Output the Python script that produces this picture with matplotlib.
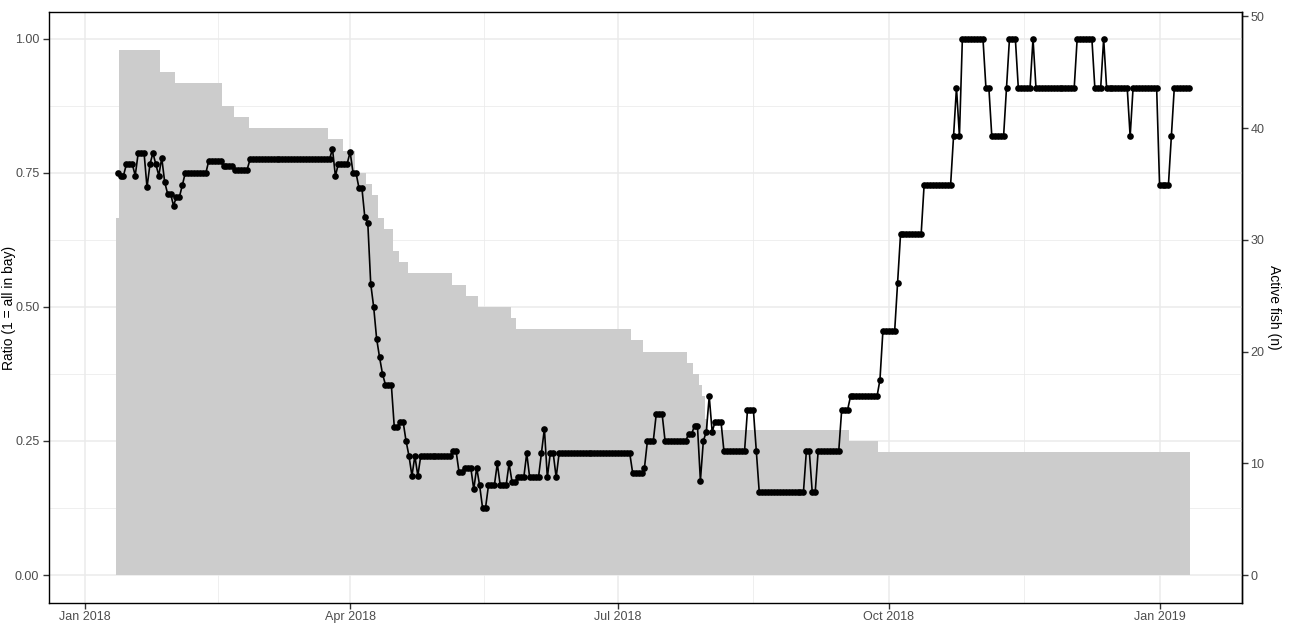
import numpy as np
import pandas as pd
import matplotlib
matplotlib.use('Agg')
import matplotlib.pyplot as plt
from matplotlib.ticker import FixedLocator

plt.rcParams['font.family'] = ['Liberation Sans', 'DejaVu Sans']

START = pd.Timestamp('2018-01-01')
LAST_DAY = 375          # last day with data (days since START)
FISH_SCALE = 48         # right axis = ratio * 48

# ratio (1 = all in bay) as runs: first day of each run, value of the run
ratio_start = [11, 12, 14, 17, 18, 21, 22, 23, 24, 25,
               26, 27, 28, 30, 31, 33, 34, 42, 47, 51,
               56, 84, 85, 86, 90, 91, 93, 95, 96, 97,
               98, 99, 100, 101, 102, 105, 107, 109, 110, 111,
               112, 113, 114, 125, 127, 129, 132, 133, 134, 135,
               137, 140, 141, 144, 145, 147, 150, 151, 155, 156,
               157, 158, 160, 161, 186, 190, 191, 194, 197, 205,
               207, 209, 210, 211, 212, 213, 214, 217, 225, 228,
               229, 245, 247, 249, 257, 260, 270, 271, 276, 277,
               285, 295, 296, 297, 298, 306, 308, 313, 314, 317,
               322, 323, 337, 343, 346, 347, 355, 356, 365, 369,
               370]
ratio_value = [0.75, 0.745, 0.766, 0.745, 0.787, 0.723, 0.766, 0.787, 0.766, 0.745,
               0.778, 0.733, 0.711, 0.689, 0.705, 0.727, 0.75, 0.773, 0.762, 0.756,
               0.775, 0.795, 0.744, 0.767, 0.789, 0.75, 0.722, 0.667, 0.657, 0.543,
               0.5, 0.441, 0.406, 0.375, 0.355, 0.276, 0.286, 0.25, 0.222, 0.185,
               0.222, 0.185, 0.222, 0.231, 0.192, 0.2, 0.16, 0.2, 0.167, 0.125,
               0.167, 0.208, 0.167, 0.208, 0.174, 0.182, 0.227, 0.182, 0.227, 0.273,
               0.182, 0.227, 0.182, 0.227, 0.19, 0.2, 0.25, 0.3, 0.25, 0.263,
               0.278, 0.176, 0.25, 0.267, 0.333, 0.267, 0.286, 0.231, 0.308, 0.231,
               0.154, 0.231, 0.154, 0.231, 0.308, 0.333, 0.364, 0.455, 0.545, 0.636,
               0.727, 0.818, 0.909, 0.818, 1.0, 0.909, 0.818, 0.909, 1.0, 0.909,
               1.0, 0.909, 1.0, 0.909, 1.0, 0.909, 0.818, 0.909, 0.727, 0.818,
               0.909]

# active fish as runs
fish_start = [11, 12, 26, 31, 47, 51, 56, 83, 88, 92,
              96, 98, 100, 102, 105, 107, 110, 125, 130, 134,
              145, 147, 186, 190, 205, 207, 209, 210, 211, 212,
              260, 270]
fish_count = [32, 47, 45, 44, 42, 41, 40, 39, 38, 36,
              35, 34, 32, 31, 29, 28, 27, 26, 25, 24,
              23, 22, 21, 20, 19, 18, 17, 16, 14, 13,
              12, 11]

tick_dates = ['2018-01-01', '2018-04-01', '2018-07-01', '2018-10-01', '2019-01-01']


def expand(starts, values, days):
    idx = np.searchsorted(starts, days, side='right') - 1
    return np.asarray(values, dtype=float)[idx]


days = np.arange(ratio_start[0], LAST_DAY + 1)
ratio = expand(ratio_start, ratio_value, days)
fish = expand(fish_start, fish_count, days)

fig = plt.figure(figsize=(12.95, 6.24), dpi=100)
ax = fig.add_axes([49 / 1295, 1 - 603 / 624, (1242 - 49) / 1295, (603 - 12) / 624])

grid_col = '#EBEBEB'
ax.set_axisbelow(True)
ax.grid(which='major', color=grid_col, linewidth=1.1)
ax.grid(which='minor', color=grid_col, linewidth=0.55)

edges = np.append(days - 0.5, days[-1] + 0.5)
ax.stairs(fish / FISH_SCALE, edges, fill=True, color='#CCCCCC', linewidth=0, baseline=0)

ax.plot(days, ratio, color='black', linewidth=1.2, marker='o', markersize=4.8,
        markeredgewidth=0, zorder=3)

ax.set_xlim(-12.3, 393.0)
ax.set_ylim(-0.0522, 1.050)

tick_days = [(pd.Timestamp(d) - START).days for d in tick_dates]
ax.set_xticks(tick_days)
ax.set_xticklabels([pd.Timestamp(d).strftime('%b %Y') for d in tick_dates])
ax.xaxis.set_minor_locator(FixedLocator([(a + b) / 2 for a, b in zip(tick_days[:-1], tick_days[1:])]))

ax.set_yticks([0, 0.25, 0.5, 0.75, 1.0])
ax.set_yticklabels(['0.00', '0.25', '0.50', '0.75', '1.00'])
ax.yaxis.set_minor_locator(FixedLocator([0.125, 0.375, 0.625, 0.875]))

sec = ax.secondary_yaxis('right', functions=(lambda y: y * FISH_SCALE, lambda y: y / FISH_SCALE))
sec.set_yticks([0, 10, 20, 30, 40, 50])

for a in (ax, sec):
    a.tick_params(which='major', length=4, width=1, color='#333333',
                  labelsize=9, labelcolor='#4D4D4D', pad=3)
    a.tick_params(which='minor', length=0)
    for s in a.spines.values():
        s.set_color('black')
        s.set_linewidth(1.0)
ax.tick_params(axis='x', pad=1.5)
sec.tick_params(pad=2)

ax.set_ylabel('Ratio (1 = all in bay)', fontsize=10)
ax.yaxis.set_label_coords(-0.0277, 0.5)
sec.set_ylabel('Active fish (n)', fontsize=10, rotation=270, labelpad=12)

fig.savefig('out.png', dpi=100)
